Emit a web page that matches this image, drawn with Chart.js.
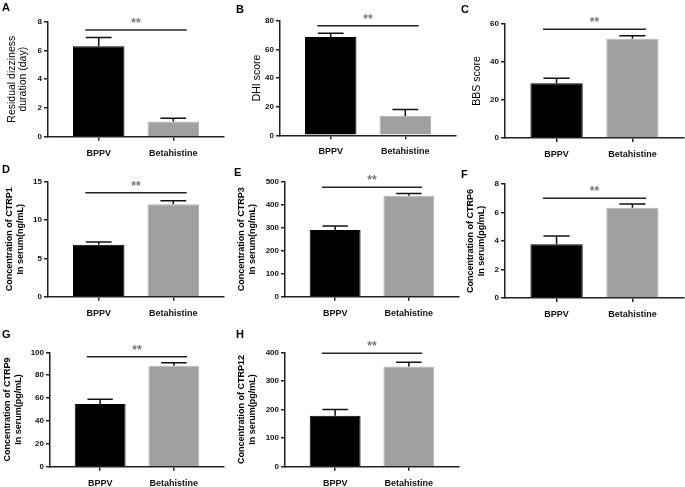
<!DOCTYPE html>
<html><head><meta charset="utf-8">
<script src="https://cdn.jsdelivr.net/npm/chart.js@4.4.0/dist/chart.umd.min.js"></script>
<style>
html,body{margin:0;padding:0;background:#fff;width:685px;height:487px;overflow:hidden;position:relative}
canvas{position:absolute}
.lbl{position:absolute;font:bold 11px "Liberation Sans",Arial,sans-serif;line-height:11px;color:#000}
</style></head><body>
<script>
// ---- data ----
const categories = ['BPPV', 'Betahistine'];
const panelLetters = ['A', 'B', 'C', 'D', 'E', 'F', 'G', 'H'];
const yTitles = [
  ['Residual dizziness', 'duration (day)'],
  'DHI score',
  'BBS score',
  ['Concentration of CTRP1', 'In serum(ng/mL)'],
  ['Concentration of CTRP3', 'In serum(ng/mL)'],
  ['Concentration of CTRP6', 'In serum(pg/mL)'],
  ['Concentration of CTRP9', 'In serum(pg/mL)'],
  ['Concentration of CTRP12', 'In serum(pg/mL)']
];
const yMax  = [8, 80, 60, 15, 500, 8, 100, 400];
const yStep = [2, 20, 20, 5, 100, 2, 20, 100];
const means = [
  [6.3, 1.05], [68.6, 13.5], [28.8, 52.3], [6.78, 12.05],
  [290, 439], [3.77, 6.34], [54.8, 88.3], [178, 350]
];
const errors = [
  [0.6, 0.23], [2.6, 4.5], [2.6, 1.5], [0.35, 0.47],
  [17, 10], [0.58, 0.26], [4.1, 2.6], [22, 15]
];
const sigLevel = [7.42, 76.5, 57.2, 13.56, 475.7, 7.0, 96.2, 396.5];
const sigLabel = '**';

// ---- layout (pixel placement of each panel) ----
const layout = [
  {axL: 48,  axR: 224, yTop: 21.7,  y0: 136.7, tX: 13,    let: [2, 1.6]},
  {axL: 280, axR: 456, yTop: 20.7,  y0: 135.3, tX: 258,   let: [236, 3.6]},
  {axL: 505, axR: 684, yTop: 24,    y0: 138,   tX: 478,   let: [461, 3.6]},
  {axL: 48,  axR: 224, yTop: 181.7, y0: 296.7, tX: 9.5,   let: [2, 163.6]},
  {axL: 285, axR: 459, yTop: 181.7, y0: 296.7, tX: 241.3, let: [234, 166.6]},
  {axL: 505, axR: 684, yTop: 184,   y0: 298,   tX: 470.5, let: [461, 168.6]},
  {axL: 50,  axR: 224, yTop: 352.3, y0: 466.7, tX: 7.8,   let: [2, 328.6]},
  {axL: 285, axR: 459, yTop: 352.3, y0: 466.7, tX: 241.3, let: [236, 328.6]}
];
const FAM = '"Liberation Sans", Arial, sans-serif';
const OFF = 0.68;
const barColors = ['#000000', '#a0a0a0'];
const barBorders = ['#000000', '#b4b4b4'];

const annot = {
  id: 'annot',
  afterDatasetsDraw(chart, args, o) {
    const ctx = chart.ctx, x = chart.scales.x, y = chart.scales.y;
    const meta = chart.getDatasetMeta(0);
    ctx.save();
    ctx.strokeStyle = '#111';
    ctx.lineWidth = 1.5;
    meta.data.forEach((bar, i) => {
      const m = o.means[i], e = o.errors[i];
      const yt = y.getPixelForValue(m), ye = y.getPixelForValue(m + e);
      const hw = bar.width / 4;
      ctx.beginPath();
      ctx.moveTo(bar.x, yt); ctx.lineTo(bar.x, ye);
      ctx.moveTo(bar.x - hw, ye); ctx.lineTo(bar.x + hw, ye);
      ctx.stroke();
    });
    const ys = y.getPixelForValue(o.sig);
    ctx.strokeStyle = '#222';
    ctx.beginPath();
    ctx.moveTo(x.getPixelForValue(-0.18), ys);
    ctx.lineTo(x.getPixelForValue(1.18), ys);
    ctx.stroke();
    ctx.fillStyle = '#777';
    ctx.font = 'bold 12px ' + FAM;
    ctx.textAlign = 'center';
    ctx.textBaseline = 'alphabetic';
    ctx.fillText(o.label, x.getPixelForValue(0.5), ys - 3);
    ctx.restore();
  }
};

layout.forEach((L, p) => {
  const big = p < 3;
  const tSize = big ? 10.5 : 9, tLH = big ? 1.05 : 1.25, tW = big ? 'normal' : 'bold';
  const lh = tSize * tLH;
  const left = Math.round(L.tX - lh / 2);
  const top = Math.round(L.yTop - 14);
  const yAxisW = L.axL - left;
  const padTop = L.yTop - top;
  const w = Math.round(L.axR - left + 2);
  const padRight = w - (L.axR - left);
  const h = Math.round(L.y0 - top + 30);
  const xAxisH = h - (L.y0 - top);

  const cv = document.createElement('canvas');
  cv.width = w; cv.height = h;
  cv.style.left = left + 'px'; cv.style.top = top + 'px';
  cv.style.width = w + 'px'; cv.style.height = h + 'px';
  document.body.appendChild(cv);

  const d = document.createElement('div');
  d.className = 'lbl';
  d.textContent = panelLetters[p];
  d.style.left = L.let[0] + 'px'; d.style.top = L.let[1] + 'px';
  document.body.appendChild(d);

  new Chart(cv, {
    type: 'bar',
    data: {
      datasets: [{
        data: means[p].map((v, i) => ({x: i, y: v})),
        backgroundColor: barColors,
        borderColor: barBorders,
        borderWidth: 1,
        categoryPercentage: 1,
        barPercentage: 0.69
      }]
    },
    options: {
      responsive: false,
      maintainAspectRatio: false,
      animation: false,
      layout: {padding: {top: padTop, right: padRight, left: 0, bottom: 0}},
      plugins: {
        legend: {display: false},
        tooltip: {enabled: false},
        annot: {means: means[p], errors: errors[p], sig: sigLevel[p], label: sigLabel}
      },
      scales: {
        x: {
          type: 'linear',
          offset: false,
          min: -OFF, max: 1 + OFF,
          afterBuildTicks: s => { s.ticks = categories.map((c, i) => ({value: i})); },
          afterFit: s => { s.height = xAxisH; },
          ticks: {
            callback: v => categories[Math.round(v)] || '',
            font: {family: FAM, size: 9, weight: 'bold'},
            color: '#111',
            padding: 7,
            maxRotation: 0,
            autoSkip: false
          },
          grid: {offset: false, drawOnChartArea: false, tickLength: 4, color: '#222', lineWidth: 1.5},
          border: {display: true, color: '#222', width: 1.5}
        },
        y: {
          min: 0, max: yMax[p],
          afterFit: s => { s.width = yAxisW; },
          ticks: {
            stepSize: yStep[p],
            font: {family: FAM, size: 8, weight: 'bold'},
            color: '#111',
            padding: 2
          },
          grid: {drawOnChartArea: false, tickLength: 4, color: '#222', lineWidth: 1.5},
          border: {display: true, color: '#222', width: 1.5},
          title: {
            display: true,
            text: yTitles[p],
            color: '#000',
            padding: 0,
            font: {family: FAM, size: tSize, weight: tW, lineHeight: tLH}
          }
        }
      }
    },
    plugins: [annot]
  });
});
</script>
</body></html>
